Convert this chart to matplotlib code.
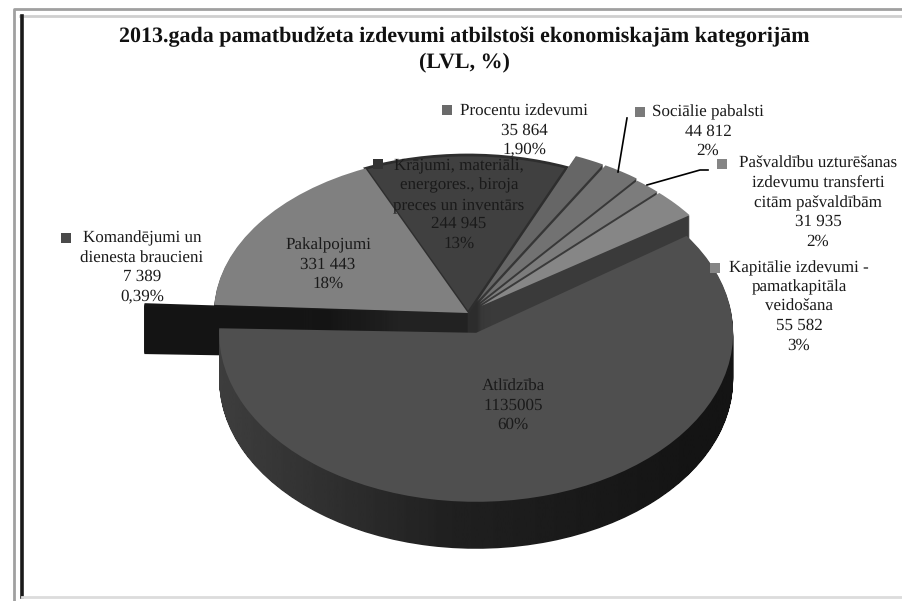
import matplotlib
matplotlib.use("Agg")
import matplotlib.pyplot as plt
import numpy as np
from matplotlib.path import Path

plt.rcParams["text.hinting"] = "no_hinting"
plt.rcParams["text.hinting_factor"] = 1

W, H = 902, 601

# counterclockwise from the Kapitalie slice
names = ["Kapitālie izdevumi -\npamatkapitāla\nveidošana",
         "Pašvaldību uzturēšanas\nizdevumu transferti\ncitām pašvaldībām",
         "Sociālie pabalsti",
         "Procentu izdevumi",
         "Krājumi, materiāli,\nenergores., biroja\npreces un inventārs",
         "Pakalpojumi",
         "Komandējumi un\ndienesta braucieni",
         "Atlīdzība"]
values = [55582, 31935, 44812, 35864, 244945, 331443, 7389, 1135005]
value_labels = ["55 582", "31 935", "44 812", "35 864", "244 945", "331 443", "7 389", "1135005"]
pct_labels = ["3%", "2%", "2%", "1,90%", "13%", "18%", "0,39%", "60%"]

top_colors = ["#868686", "#7c7c7c", "#727272", "#666666", "#404040", "#808080", "#161616", "#4f4f4f"]
wall_colors = ["#3a3a3a", "#3a3a3a", "#383838", "#363636", "#2c2c2c", "#222222", "#141414", "#222222"]
explode = [0.07, 0.07, 0.08, 0.08, 0.0, 0.0, 0.275, 0.11]
# painting order of the back slices, back to front
paint_order = [4, 3, 2, 1, 0, 5, 6]

# label placement in pixels: text centre x, first line y, marker x, marker y
label_x = [799, 818, 708, 524, 459, 328, 142, 513]
label_y = [268, 164, 112, 111, 166, 245, 238, 386]
marker_x = [715, 722, 640, 447, 378, None, 66, None]
marker_y = [268, 164, 112, 110, 164, None, 238, None]
marker_colors = ["#858585", "#858585", "#7a7a7a", "#6a6a6a", "#333333", None, "#4a4a4a", None]

DEPTH = 47
START = 35
LIM = 1.7


def pie_axes(cx, cy, rx, ry, z):
    left = (cx - LIM * rx) / W
    bottom = 1 - (cy + LIM * ry) / H
    ax = fig.add_axes([left, bottom, 2 * LIM * rx / W, 2 * LIM * ry / H], zorder=z)
    ax.patch.set_visible(False)
    return ax


def finish(ax):
    ax.set_aspect("auto")
    ax.set_xlim(-LIM, LIM)
    ax.set_ylim(-LIM, LIM)
    ax.axis("off")


fig = plt.figure(figsize=(W / 100, H / 100), dpi=100, facecolor="white")

# back slices
RY_BACK = 158
ax_back = pie_axes(468, 313, 254, RY_BACK, 1)
for k in range(DEPTH, -1, -1):
    wedges, _ = ax_back.pie(values, explode=explode, startangle=START, radius=1,
                            center=(0, -k / RY_BACK),
                            colors=top_colors if k == 0 else wall_colors,
                            wedgeprops={"linewidth": 0})
    for i, w in enumerate(wedges):
        if i == 7:
            w.set_visible(False)
        else:
            w.set_zorder(paint_order.index(i) * 1000 + (DEPTH - k) + 1)
        if k == 0 and i == 4:
            w.set_edgecolor("#2e2e2e")
            w.set_linewidth(2)
finish(ax_back)

# big front slice, a little larger because of the perspective
RY_FRONT = 169
ax_front = pie_axes(468, 315, 257, RY_FRONT, 2)
wall_paths = []
for k in range(DEPTH, -1, -1):
    wedges, _ = ax_front.pie(values, explode=explode, startangle=START, radius=1,
                             center=(0, -k / RY_FRONT), colors=top_colors,
                             wedgeprops={"linewidth": 0})
    for i, w in enumerate(wedges):
        if i != 7 or k > 0:
            w.set_visible(False)
        else:
            w.set_zorder(10)
    if k > 0:
        wall_paths.append(wedges[7].get_path())

# side of the big slice darkens towards the right
px = np.linspace(468 - LIM * 257, 468 + LIM * 257, 400)
shade = np.interp(px, [218, 450, 700], [0x3e, 0x20, 0x14]) / 255
img = ax_front.imshow(shade[None, :], cmap="gray", vmin=0, vmax=1, aspect="auto",
                      extent=(-LIM, LIM, -LIM, LIM), zorder=5)
img.set_clip_path(Path.make_compound_path(*wall_paths), ax_front.transData)
finish(ax_front)

# text, markers and the frame in pixel coordinates
ax = fig.add_axes([0, 0, 1, 1], zorder=5)
ax.patch.set_visible(False)
ax.set_xlim(0, W)
ax.set_ylim(H, 0)
ax.axis("off")

ax.plot([13.5, 13.5, W], [H, 8.5, 8.5], color="#a0a0a0", lw=2)
ax.plot([20, W], [15.5, 15.5], color="#cfcfcf", lw=2)
ax.plot([21.5, 21.5], [16, 597], color="#1a1a1a", lw=2.6)
ax.plot([22, W], [597, 597], color="#dcdcdc", lw=2)

ax.text(464, 37, "2013.gada pamatbudžeta izdevumi atbilstoši ekonomiskajām kategorijām",
        family="Liberation Serif", weight="bold", size=16.1, ha="center", va="center", color="#111111")
ax.text(464, 62, "(LVL, %)", family="Liberation Serif", weight="bold", size=16.1,
        ha="center", va="center", color="#111111")

LINE = 19.4
for i in range(len(names)):
    lines = names[i].split("\n") + [value_labels[i], pct_labels[i]]
    for j, line in enumerate(lines):
        ax.text(label_x[i], label_y[i] + j * LINE, line, family="Liberation Serif", size=12.2,
                ha="center", va="center", color="#1a1a1a")
    if marker_x[i] is not None:
        ax.plot(marker_x[i], marker_y[i], "s", ms=6.5, color=marker_colors[i], mew=0)

# leader lines
ax.plot([627, 618], [118, 172], color="black", lw=1.2)
ax.plot([708, 700, 647], [170, 170, 185], color="black", lw=1.2)

fig.savefig("out.png", dpi=100)
